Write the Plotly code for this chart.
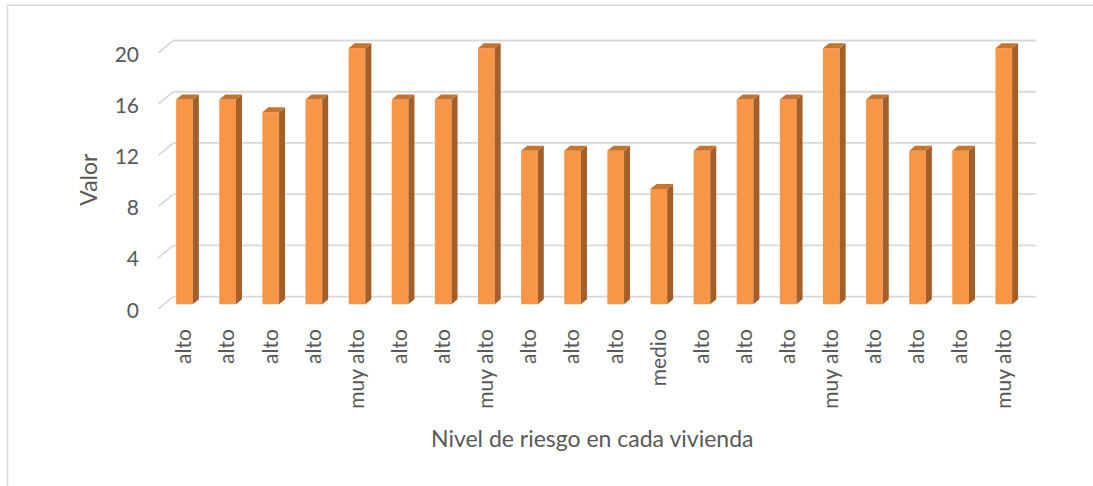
import plotly.graph_objects as go

# Risk level per dwelling and its score
niveles = ["alto", "alto", "alto", "alto", "muy alto", "alto", "alto", "muy alto",
           "alto", "alto", "alto", "medio", "alto", "alto", "alto", "muy alto",
           "alto", "alto", "alto", "muy alto"]
valores = [16, 16, 15, 16, 20, 16, 16, 20, 12, 12, 12, 9, 12, 16, 16, 20, 16, 12, 12, 20]
y_ticks = [0, 4, 8, 12, 16, 20]

posiciones = list(range(len(valores)))

# Pseudo-3D geometry (in axis units)
BAR_W = 0.387          # front face width
DEPTH_X, DEPTH_Y = 0.139, 0.39    # bar depth offset (right, up)
WALL_X, WALL_Y = 0.2435, 0.60     # back wall offset from the bar front plane
FLOOR_X, FLOOR_Y = -0.104, -0.35  # front floor edge offset

FRONT = "#F79646"
SIDE = "#A35E29"
TOP = "#C6752F"
GRID = "#D9D9D9"
TEXT = "#595959"

fig = go.Figure()
fig.add_trace(go.Bar(
    x=posiciones, y=valores, width=BAR_W,
    marker=dict(color=FRONT, line=dict(width=0)),
    hoverinfo="x+y",
))

shapes = []
x_lo, x_hi = -0.5, len(valores) - 0.5
for v in y_ticks:
    # back wall gridline
    shapes.append(dict(type="line", xref="x", yref="y", layer="below",
                       x0=x_lo + WALL_X, x1=x_hi + WALL_X, y0=v + WALL_Y, y1=v + WALL_Y,
                       line=dict(color=GRID, width=1.8)))
    # side wall gridline running to the front
    shapes.append(dict(type="line", xref="x", yref="y", layer="below",
                       x0=x_lo + FLOOR_X, x1=x_lo + WALL_X, y0=v + FLOOR_Y, y1=v + WALL_Y,
                       line=dict(color=GRID, width=1.8)))

for x, v in zip(posiciones, valores):
    xr = x + BAR_W / 2
    xl = x - BAR_W / 2
    side = (f"M {xr},0 L {xr + DEPTH_X},{DEPTH_Y} L {xr + DEPTH_X},{v + DEPTH_Y} "
            f"L {xr},{v} Z")
    top = (f"M {xl},{v} L {xl + DEPTH_X},{v + DEPTH_Y} L {xr + DEPTH_X},{v + DEPTH_Y} "
           f"L {xr},{v} Z")
    shapes.append(dict(type="path", xref="x", yref="y", layer="above", path=side,
                       fillcolor=SIDE, line=dict(width=0)))
    shapes.append(dict(type="path", xref="x", yref="y", layer="above", path=top,
                       fillcolor=TOP, line=dict(width=0)))

# chart area border
shapes.append(dict(type="rect", xref="paper", yref="paper",
                   x0=-0.1592, x1=1.06, y0=-0.70, y1=1.0841,
                   line=dict(color=GRID, width=1.5), fillcolor="rgba(0,0,0,0)"))

fig.update_layout(
    width=1093, height=486,
    margin=dict(l=150, r=48, t=29.3, b=173.8),
    plot_bgcolor="white", paper_bgcolor="white",
    font=dict(family="Lato", color=TEXT, size=21),
    showlegend=False,
    shapes=shapes,
    xaxis=dict(
        range=[-0.8, 19.956],
        tickmode="array", tickvals=posiciones, ticktext=niveles,
        tickangle=-90, showgrid=False, zeroline=False, showline=False,
        ticks="", ticklabelstandoff=12,
        tickfont=dict(size=21, color=TEXT),
    ),
    yaxis=dict(
        range=[-0.6, 21.5],
        tickmode="array", tickvals=y_ticks,
        showgrid=False, zeroline=False, showline=False,
        ticks="", ticklabelstandoff=10, ticklabelshift=6,
        tickfont=dict(size=21, color=TEXT),
    ),
    annotations=[
        dict(text="Valor", xref="paper", yref="paper", x=(88 - 150) / 895,
             y=(312.2 - 180) / 282.9, showarrow=False, textangle=-90,
             font=dict(size=23, color=TEXT), xanchor="center", yanchor="middle"),
        dict(text="Nivel de riesgo en cada vivienda", xref="paper", yref="paper",
             x=(592 - 150) / 895, y=(312.2 - 438) / 282.9, showarrow=False,
             font=dict(size=23, color=TEXT), xanchor="center", yanchor="middle"),
    ],
)

fig.write_html("out.html")
